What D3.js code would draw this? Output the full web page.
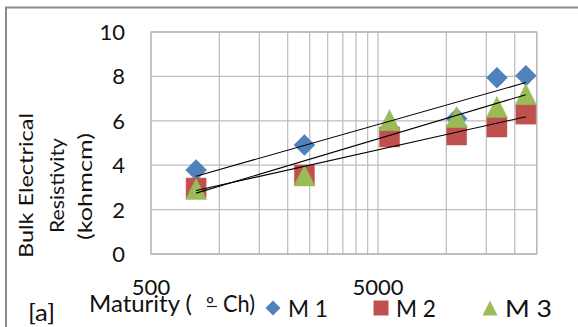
<!DOCTYPE html>
<html><head><meta charset="utf-8">
<script src="https://cdn.jsdelivr.net/npm/d3@7"></script>
<style>body{margin:0;background:#fff}svg{display:block}text{font-family:Lato,"Open Sans",sans-serif;fill:#111}</style>
</head><body>
<script>
const maturity = [790, 2370, 5620, 11100, 16700, 22400];
const seriesNames = ["M 1", "M 2", "M 3"];
const m1 = [3.78, 4.91, 5.54, 6.10, 7.94, 8.03];
const m2 = [2.97, 3.56, 5.27, 5.36, 5.72, 6.30];
const m3 = [2.93, 3.54, 6.03, 6.17, 6.62, 7.20];
const yTicks = [0, 2, 4, 6, 8, 10];
const xTickLabels = [500, 5000];
const colors = ["#4F81BD", "#C0504D", "#9BBB59"];
const shapes = ["diamond", "square", "triangle"];

const W = 578, H = 327;
const svg = d3.select("body").append("svg").attr("width", W).attr("height", H);

// outer frame
svg.append("rect").attr("x", 6).attr("y", 7.5).attr("width", 600).attr("height", 400)
  .attr("fill", "none").attr("stroke", "#8c8c8c").attr("stroke-width", 2);

const x = d3.scaleLog().domain([500, 25000]).range([151, 536.7]);
const y = d3.scaleLinear().domain([0, 10]).range([254, 32]);

// gridlines (log minor grid)
const gridX = [];
[500, 5000].forEach(base => { for (let k = 1; k <= 10; k++) { const v = base * k; if (v <= 25000) gridX.push(v); } });
const g = svg.append("g");
g.selectAll("line.gx").data(Array.from(new Set(gridX))).enter().append("line")
  .attr("x1", d => x(d)).attr("x2", d => x(d)).attr("y1", y(0)).attr("y2", y(10))
  .attr("stroke", "#c0c0c0").attr("stroke-width", 1.3);
g.selectAll("line.gy").data(yTicks).enter().append("line")
  .attr("x1", x(500)).attr("x2", x(25000)).attr("y1", d => y(d)).attr("y2", d => y(d))
  .attr("stroke", "#bcbcbc").attr("stroke-width", 1.3);
g.append("rect").attr("x", x(500)).attr("y", y(10)).attr("width", x(25000) - x(500)).attr("height", y(0) - y(10))
  .attr("fill", "none").attr("stroke", "#b8b8b8").attr("stroke-width", 1.3);

// y tick labels
svg.selectAll("text.yt").data(yTicks).enter().append("text")
  .attr("x", 125).attr("y", d => y(d)).attr("dy", "0.36em").attr("text-anchor", "end")
  .attr("font-size", 22).text(d => d);
// x tick labels
svg.selectAll("text.xt").data(xTickLabels).enter().append("text")
  .attr("x", d => x(d)).attr("y", 295).attr("text-anchor", "middle")
  .attr("font-size", 22).text(d => d);

// y axis title
const yt = svg.append("g").attr("transform", "rotate(-90)");
[["Bulk Electrical", 33, 145, 185.5], ["Resistivity", 64, 95, 185.5], ["(kohmcm)", 92, 107, 186.5]].forEach(([t, bx, len, cy]) => {
  yt.append("text").attr("x", -(cy + len / 2)).attr("y", bx).attr("font-size", 19)
    .attr("textLength", len).attr("lengthAdjust", "spacingAndGlyphs").text(t);
});

function markerPath(shape, s) {
  const h = s / 2;
  if (shape === "diamond") return `M0,${-h}L${h},0L0,${h}L${-h},0Z`;
  if (shape === "square") return `M${-h},${-h}H${h}V${h}H${-h}Z`;
  return `M0,${-h}L${h},${h}L${-h},${h}Z`;
}

const series = [m1, m2, m3];
series.forEach((vals, i) => {
  svg.append("g").selectAll("path").data(vals.map((v, j) => [maturity[j], v])).enter().append("path")
    .attr("transform", d => `translate(${x(d[0])},${y(d[1])})`)
    .attr("d", markerPath(shapes[i], i === 1 ? 20 : 21))
    .attr("fill", colors[i]).attr("stroke", colors[i]).attr("stroke-opacity", 0.5).attr("stroke-width", 1);
});

// logarithmic trendlines (least squares on ln x)
series.forEach(vals => {
  const lx = maturity.map(Math.log);
  const mx = d3.mean(lx), my = d3.mean(vals);
  const b = d3.sum(lx.map((l, k) => (l - mx) * (vals[k] - my))) / d3.sum(lx.map(l => (l - mx) ** 2));
  const a = my - b * mx;
  const ends = [maturity[0], maturity[maturity.length - 1]];
  svg.append("line")
    .attr("x1", x(ends[0])).attr("y1", y(a + b * Math.log(ends[0])))
    .attr("x2", x(ends[1])).attr("y2", y(a + b * Math.log(ends[1])))
    .attr("stroke", "#000").attr("stroke-width", 1.1);
});

// x axis title & label
const xt = svg.append("text").attr("x", 89).attr("y", 312).attr("font-size", 23);
xt.append("tspan").attr("textLength", 103).attr("lengthAdjust", "spacingAndGlyphs").text("Maturity (");
xt.append("tspan").attr("x", 206).attr("font-size", 20).text("º");
xt.append("tspan").attr("x", 223).attr("textLength", 32).attr("lengthAdjust", "spacingAndGlyphs").text("Ch)");
svg.append("line").attr("x1", 207).attr("x2", 217).attr("y1", 306.5).attr("y2", 306.5)
  .attr("stroke", "#222").attr("stroke-width", 1.2);
svg.append("text").attr("x", 28).attr("y", 321).attr("font-size", 23)
  .attr("textLength", 27).attr("lengthAdjust", "spacingAndGlyphs").text("[a]");

// legend
const legX = [273, 381, 490];
const legLen = [40, 40, 47];
seriesNames.forEach((n, i) => {
  svg.append("path").attr("transform", `translate(${legX[i]},${308})`)
    .attr("d", markerPath(shapes[i], 15)).attr("fill", colors[i]);
  svg.append("text").attr("x", legX[i] + 15).attr("y", 317).attr("font-size", 23)
    .attr("textLength", legLen[i]).attr("lengthAdjust", "spacingAndGlyphs").text(n);
});
</script>
</body></html>
